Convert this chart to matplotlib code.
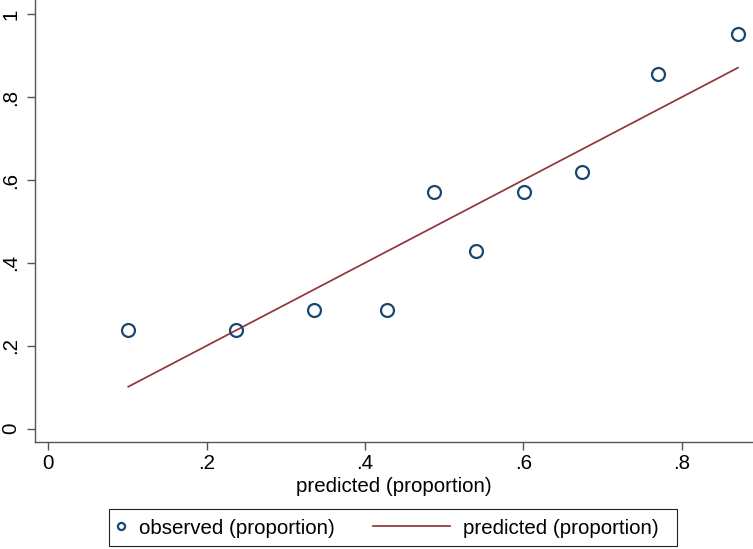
import numpy as np
import matplotlib
matplotlib.use('Agg')
import matplotlib.pyplot as plt
from matplotlib.lines import Line2D
from matplotlib.patches import Rectangle
from matplotlib.legend_handler import HandlerLine2D

# data
predicted = [0.101, 0.237, 0.335, 0.428, 0.487, 0.540, 0.601, 0.674, 0.770, 0.871]
observed = [0.238, 0.238, 0.286, 0.286, 0.571, 0.429, 0.571, 0.619, 0.857, 0.952]
xticks = [0, 0.2, 0.4, 0.6, 0.8]
xticklabels = ['0', '.2', '.4', '.6', '.8']
yticks = [0, 0.2, 0.4, 0.6, 0.8, 1.0]
yticklabels = ['0', '.2', '.4', '.6', '.8', '1']

NAVY = '#1a476f'
MAROON = '#90353b'
AXCOL = '#555555'
FS = 14.8

plt.rcParams['font.family'] = ['Liberation Sans', 'DejaVu Sans']

W, H = 753, 549
fig = plt.figure(figsize=(W / 100, H / 100), dpi=100)
ax = fig.add_axes([35 / W, 1 - 442 / H, 1 - 35 / W, 442 / H])

ax.plot(predicted, observed, linestyle='none', marker='o', markersize=9.3,
        markerfacecolor='none', markeredgecolor=NAVY, markeredgewidth=1.6,
        label='observed (proportion)', clip_on=False, zorder=3)
ax.plot(predicted, predicted, color=MAROON, linewidth=1.25,
        label='predicted (proportion)', zorder=2)

ax.set_xlim(-0.0168, 0.890)
ax.set_ylim(-0.0324, 1.0345)

for s in ['top', 'right']:
    ax.spines[s].set_visible(False)
for s in ['left', 'bottom']:
    ax.spines[s].set_color(AXCOL)
    ax.spines[s].set_linewidth(1.0)

ax.set_xticks(xticks)
ax.set_xticklabels(xticklabels)
ax.set_yticks(yticks)
ax.set_yticklabels(yticklabels, rotation=90, va='center')
ax.tick_params(axis='both', length=5.8, width=1.0, color=AXCOL,
               labelsize=FS, labelcolor='black')
ax.tick_params(axis='x', pad=2.5)
ax.tick_params(axis='y', pad=5)
ax.set_xlabel('predicted (proportion)', fontsize=FS, labelpad=3.5)


class LongLineHandler(HandlerLine2D):
    """legend key: line drawn leftwards from the handle's right end"""

    def __init__(self, length, **kw):
        super().__init__(**kw)
        self.length = length

    def create_artists(self, legend, orig_handle, xdescent, ydescent,
                       width, height, fontsize, trans):
        y = (height - ydescent) / 2
        x1 = width - xdescent
        line = Line2D([x1 - self.length, x1], [y, y])
        self.update_prop(line, orig_handle, legend)
        line.set_transform(trans)
        return [line]


handles, labels = ax.get_legend_handles_labels()
leg = fig.legend(handles, labels, ncol=2, loc='center left',
                 bbox_to_anchor=(116 / W, 1 - 528 / H),
                 bbox_transform=fig.transFigure,
                 frameon=False, borderpad=0, borderaxespad=0,
                 handlelength=0.5, handletextpad=0.62, columnspacing=5.1,
                 markerscale=0.55, fontsize=FS,
                 handler_map={handles[1]: LongLineHandler(55.5)})

# legend frame (Stata style: wider padding on the right)
fig.add_artist(Rectangle((109 / W, 1 - 546 / H), (676.7 - 109) / W, (546 - 509.3) / H,
                         transform=fig.transFigure, fill=False,
                         edgecolor='#222222', linewidth=0.8))

fig.savefig('out.png', dpi=100)
